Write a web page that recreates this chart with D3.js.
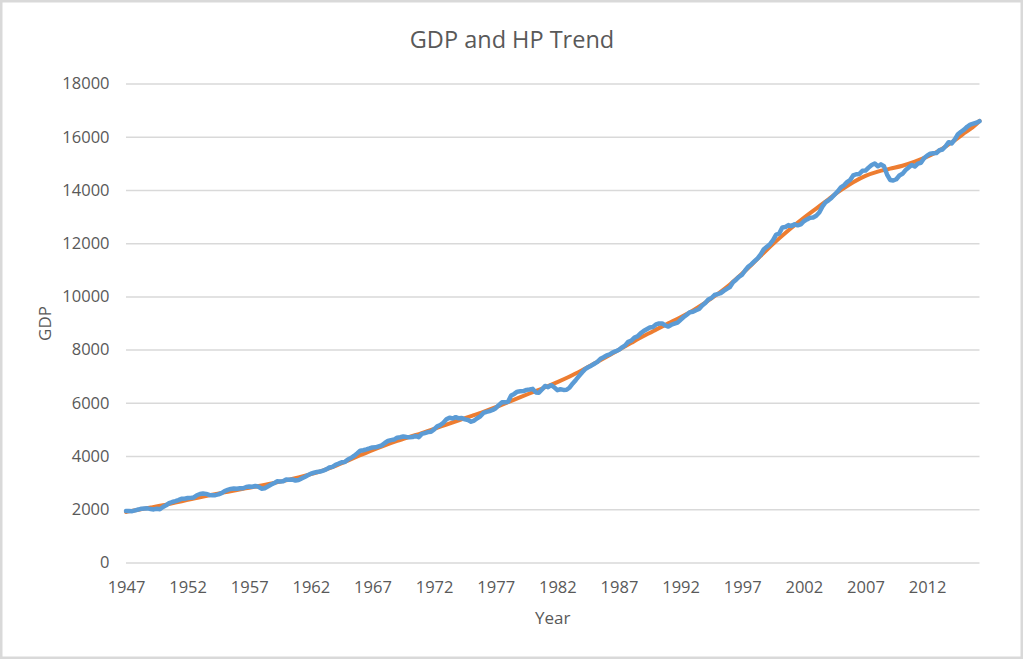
<!DOCTYPE html>
<html><head><meta charset="utf-8">
<script src="https://cdn.jsdelivr.net/npm/d3@7"></script>
<style>body{margin:0;background:#fff}</style>
</head><body>
<svg id="c" width="1024" height="659"></svg>
<script>
// ---- DATA ----
const startYear = 1947; // first quarter of the series (1947Q1), quarterly through 2016Q2
const gdp = [
1934.5,1932.3,1930.3,1960.7,
1989.5,2021.9,2033.2,2035.3,
2007.5,1995.3,2018.1,2001.7,
2084.6,2147.6,2230.4,2273.4,
2304.5,2344.5,2392.8,2398.1,
2423.5,2428.5,2446.1,2526.4,
2573.5,2593.6,2578.5,2539.8,
2528.0,2530.7,2559.4,2609.3,
2683.8,2727.5,2764.1,2780.8,
2770.0,2792.9,2790.6,2836.2,
2854.5,2848.2,2875.9,2846.4,
2772.7,2790.9,2855.5,2922.3,
2976.6,3049.0,3043.1,3055.1,
3123.2,3111.3,3119.1,3081.3,
3102.3,3159.9,3212.6,3277.7,
3336.8,3372.7,3404.8,3418.0,
3456.1,3501.1,3569.5,3595.0,
3672.7,3716.4,3766.9,3780.2,
3873.5,3926.4,4006.2,4100.6,
4201.9,4219.1,4249.2,4285.6,
4324.9,4328.7,4366.1,4401.2,
4490.6,4566.4,4599.3,4619.8,
4691.6,4706.7,4736.1,4715.5,
4707.1,4715.4,4757.2,4708.3,
4834.3,4861.9,4900.0,4914.3,
5002.4,5118.3,5165.4,5251.2,
5380.5,5441.5,5411.9,5462.4,
5417.0,5431.3,5378.7,5357.2,
5292.4,5333.2,5421.4,5494.4,
5618.5,5661.0,5689.8,5732.5,
5799.2,5913.0,6017.6,6018.2,
6039.2,6274.0,6335.3,6420.3,
6433.0,6440.8,6487.1,6503.9,
6524.9,6392.6,6382.9,6501.2,
6635.7,6587.3,6662.9,6585.1,
6475.0,6510.2,6486.8,6493.1,
6578.2,6728.3,6860.0,7001.5,
7140.6,7266.0,7337.5,7396.0,
7469.5,7537.9,7655.2,7712.6,
7784.1,7819.8,7898.6,7939.5,
7995.0,8084.7,8158.0,8292.7,
8339.3,8449.5,8498.3,8610.9,
8697.7,8766.1,8831.5,8850.2,
8947.1,8981.7,8983.9,8907.4,
8865.6,8934.4,8977.3,9016.4,
9123.0,9223.5,9313.2,9406.5,
9424.1,9480.1,9526.3,9653.5,
9748.2,9881.4,9939.7,10052.5,
10086.9,10122.1,10208.8,10281.2,
10348.7,10529.4,10626.8,10739.1,
10820.9,10984.2,11124.0,11210.3,
11321.2,11431.0,11580.6,11770.7,
11864.7,11962.5,12113.1,12323.3,
12359.1,12592.5,12607.7,12679.3,
12643.3,12710.3,12670.1,12705.3,
12822.3,12893.0,12955.8,12964.0,
13031.2,13152.1,13372.4,13528.7,
13606.5,13706.2,13830.8,13950.4,
14099.1,14172.7,14291.8,14373.4,
14546.1,14589.6,14602.6,14716.9,
14726.0,14838.7,14938.5,14991.8,
14889.5,14963.4,14891.6,14577.0,
14375.0,14355.6,14402.5,14541.9,
14604.8,14745.9,14845.5,14939.0,
14881.3,14989.6,15021.1,15190.3,
15291.0,15362.4,15380.8,15384.3,
15491.9,15521.6,15641.3,15793.9,
15747.0,15900.8,16094.5,16186.7,
16269.0,16374.2,16454.9,16490.7,
16525.0,16583.1
];
const trendYears = [1947,1948,1949,1950,1951,1952,1953,1954,1955,1956,1957,1958,1959,1960,
1961,1962,1963,1964,1965,1966,1967,1968,1969,1970,1971,1972,1973,1974,1975,1976,1977,1978,
1979,1980,1981,1982,1983,1984,1985,1986,1987,1988,1989,1990,1991,1992,1993,1994,1995,1996,
1997,1998,1999,2000,2001,2002,2003,2004,2005,2006,2007,2008,2009,2010,2011,2012,2013,2014,
2015,2016,2016.25];
const trendValues = [1900,1985,2065,2150,2250,2355,2455,2545,2635,2725,2810,2895,2985,3085,
3195,3320,3465,3635,3830,4030,4225,4405,4570,4720,4865,5020,5185,5345,5500,5660,5835,6025,
6215,6400,6585,6780,6990,7225,7475,7735,7995,8255,8510,8750,8985,9220,9475,9765,10090,10450,
10860,11300,11750,12180,12580,12950,13300,13650,13990,14290,14530,14690,14800,14910,15060,15250,15480,15790,
16130,16480,16600];
const xTickYears = [1947,1952,1957,1962,1967,1972,1977,1982,1987,1992,1997,2002,2007,2012];
const yTicks = [0,2000,4000,6000,8000,10000,12000,14000,16000,18000];

// ---- CHART ----
const svg = d3.select('#c');
const font = "'Open Sans', 'Noto Sans', sans-serif";
const textCol = '#595959';
const gridCol = '#d9d9d9';

svg.append('rect').attr('x',0).attr('y',0).attr('width',1024).attr('height',659).attr('fill','#fff');
svg.append('rect').attr('x',1.25).attr('y',1.25).attr('width',1020.5).attr('height',656.5)
  .attr('fill','none').attr('stroke',gridCol).attr('stroke-width',2.5);

const gdpPts = gdp.map((v,i)=>({t: startYear + i/4, v}));
const lastT = gdpPts[gdpPts.length-1].t;

const x = d3.scaleLinear().domain([startYear, lastT]).range([126, 979.5]);
const y = d3.scaleLinear().domain([0, 18000]).range([562.5, 83.5]);

// gridlines
const yAxis = d3.axisLeft(y).tickValues(yTicks).tickSize(-(x.range()[1]-x.range()[0])).tickPadding(16).tickFormat(d3.format('d'));
const gy = svg.append('g').attr('transform',`translate(${x.range()[0]},0)`).call(yAxis);
gy.select('.domain').remove();
gy.selectAll('.tick line').attr('stroke',gridCol).attr('stroke-width',1.5);
gy.selectAll('.tick text').attr('fill',textCol).attr('font-family',font).attr('font-size',16.5)
  .attr('x',-(x.range()[0]-109.5));

// x axis labels
const xAxis = d3.axisBottom(x).tickValues(xTickYears).tickSize(0).tickPadding(0).tickFormat(d3.format('d'));
const gx = svg.append('g').attr('transform',`translate(0,${y(0)})`).call(xAxis);
gx.select('.domain').remove();
gx.selectAll('.tick text').attr('fill',textCol).attr('font-family',font).attr('font-size',16.5)
  .attr('dy',null).attr('y',30.5);

// lines
const trendPts = trendYears.map((t,i)=>({t, v: trendValues[i]}));
svg.append('path').datum(trendPts)
  .attr('d', d3.line().x(d=>x(d.t)).y(d=>y(d.v)).curve(d3.curveMonotoneX))
  .attr('fill','none').attr('stroke','#ED7D31').attr('stroke-width',4)
  .attr('stroke-linejoin','round').attr('stroke-linecap','round');
svg.append('path').datum(gdpPts)
  .attr('d', d3.line().x(d=>x(d.t)).y(d=>y(d.v)))
  .attr('fill','none').attr('stroke','#5B9BD5').attr('stroke-width',4.5)
  .attr('stroke-linejoin','round').attr('stroke-linecap','round');

// titles
svg.append('text').attr('x',512).attr('y',47.5).attr('text-anchor','middle')
  .attr('font-family',font).attr('font-size',23.5).attr('fill',textCol).text('GDP and HP Trend');
svg.append('text').attr('x',(x.range()[0]+x.range()[1])/2).attr('y',624).attr('text-anchor','middle')
  .attr('font-family',font).attr('font-size',17).attr('fill',textCol).text('Year');
svg.append('text').attr('transform','translate(51,323.5) rotate(-90)').attr('text-anchor','middle')
  .attr('font-family',font).attr('font-size',17).attr('fill',textCol).text('GDP');
</script>
</body></html>
